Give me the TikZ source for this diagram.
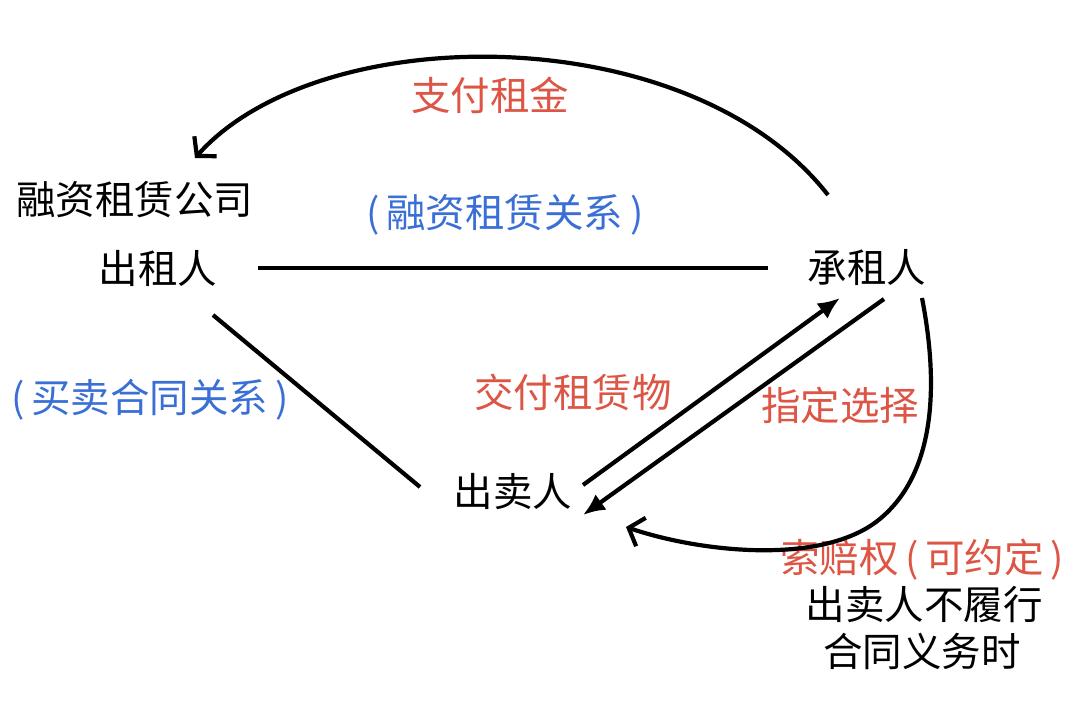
\documentclass[tikz,border=0pt]{standalone}
\usepackage{fontspec}
\setmainfont{Noto Sans CJK SC}
\usetikzlibrary{arrows.meta}
\definecolor{lblred}{HTML}{DD5544}
\definecolor{lblblue}{HTML}{3A6FD6}
\tikzset{
  txt/.style={inner sep=0pt, font=\fontsize{39.5pt}{47pt}\selectfont},
  redtxt/.style={txt, text=lblred},
  bluetxt/.style={txt, text=lblblue},
  conn/.style={line width=4.2pt, black},
  solidtip/.style={-{Latex[length=22pt,width=19pt]}},
  opentip/.style={-{Straight Barb[length=13pt,width=30pt,line width=4.2pt]}}
}
\begin{document}
\begin{tikzpicture}[x=1pt,y=-1pt]
\useasboundingbox (0,0) rectangle (1080,717);
\fill[white] (0,0) rectangle (1080,717);
% nodes
\node[txt, anchor=west] (company) at (16,200) {融资租赁公司};
\node[txt] (lessor) at (158,268) {出租人};
\node[txt] (lessee) at (867,268) {承租人};
\node[txt] (seller) at (513,492) {出卖人};
\node[redtxt] (pay) at (490,95) {支付租金};
\node[bluetxt] (finrel) at (505,215) {(\,融资租赁关系\,)};
\node[bluetxt] (salerel) at (150,400) {(\,买卖合同关系\,)};
\node[redtxt] (deliver) at (573,392) {交付租赁物};
\node[redtxt] (choose) at (840,405) {指定选择};
\node[redtxt] (claim) at (922,560) {索赔权\,(\,可约定\,)};
\node[txt] (cond1) at (924,605) {出卖人不履行};
\node[txt] (cond2) at (922,651) {合同义务时};
% connector end points
\coordinate (h1) at (258,268);
\coordinate (h2) at (768,268);
\coordinate (d1) at (213,315);
\coordinate (d2) at (420,487);
\coordinate (a1s) at (583,485);
\coordinate (a1e) at (840,298);
\coordinate (a2s) at (884,299);
\coordinate (a2e) at (583,515);
\coordinate (cs) at (922,298);
\coordinate (cm) at (876,522);
\coordinate (ce) at (626,527);
\coordinate (ts) at (828,195);
\coordinate (te) at (195,158);
% connectors
\draw[conn] (h1) -- (h2);
\draw[conn] (d1) -- (d2);
\draw[conn, solidtip] (a1s) -- (a1e);
\draw[conn, solidtip] (a2s) -- (a2e);
\draw[conn, opentip] (cs) .. controls (938,380) and (938,475) .. (cm)
      .. controls (818,565) and (700,552) .. (ce);
\draw[conn, opentip] (ts) .. controls (690,18) and (320,18) .. (te);
\end{tikzpicture}
\end{document}
